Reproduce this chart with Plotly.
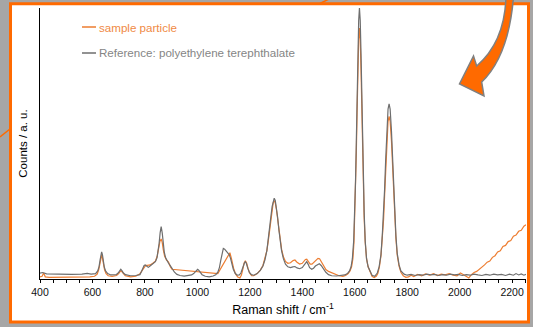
import plotly.graph_objects as go

# ---------------- data ----------------
ref_x = [400, 410, 425, 450, 480, 520, 560, 580, 595, 612, 620, 625, 629, 632, 635, 638, 641, 645, 650, 658,
         670, 690, 698, 703, 708, 713, 718, 726, 745, 765, 781, 787, 792, 797, 801, 807, 813, 822, 832, 840,
         846, 850, 854, 858, 862, 866, 870, 874, 879, 884, 890, 896, 902, 912, 922, 934, 950, 965, 978, 986,
         992, 997, 1001, 1005, 1010, 1018, 1030, 1045, 1060, 1070, 1078, 1084, 1089, 1094, 1099, 1104, 1110,
         1116, 1121, 1126, 1131, 1137, 1144, 1152, 1160, 1166, 1171, 1176, 1180, 1183, 1187, 1192, 1198, 1206,
         1215, 1228, 1240, 1250, 1258, 1265, 1270, 1275, 1280, 1285, 1289, 1293, 1297, 1301, 1306, 1311, 1316,
         1321, 1328, 1336, 1345, 1355, 1364, 1372, 1380, 1390, 1400, 1407, 1412, 1417, 1422, 1428, 1436, 1443,
         1450, 1458, 1465, 1472, 1480, 1490, 1500, 1512, 1530, 1548, 1562, 1572, 1580, 1586, 1591, 1596, 1600,
         1603, 1606, 1609, 1612, 1615, 1618, 1621, 1624, 1627, 1630, 1633, 1636, 1640, 1645, 1651, 1658, 1666,
         1676, 1686, 1693, 1700, 1705, 1710, 1714, 1718, 1722, 1727, 1731, 1735, 1740, 1744, 1748, 1752, 1757,
         1762, 1769, 1776, 1788, 1800, 1815, 1830, 1845, 1860, 1875, 1890, 1905, 1920, 1935, 1950, 1965, 1980,
         1995, 2010, 2025, 2040, 2055, 2070, 2085, 2100, 2115, 2130, 2145, 2160, 2175, 2190, 2205, 2215, 2225,
         2235, 2245, 2253]
ref_y = [0.022, 0.024, 0.019, 0.018, 0.017, 0.017, 0.018, 0.021, 0.018, 0.02, 0.03, 0.045, 0.07, 0.09, 0.1,
         0.09, 0.07, 0.045, 0.03, 0.02, 0.015, 0.016, 0.022, 0.03, 0.036, 0.03, 0.022, 0.016, 0.012, 0.013,
         0.016, 0.028, 0.04, 0.05, 0.052, 0.046, 0.043, 0.05, 0.058, 0.064, 0.078, 0.098, 0.13, 0.17, 0.193,
         0.17, 0.13, 0.098, 0.078, 0.066, 0.058, 0.05, 0.04, 0.026, 0.017, 0.013, 0.011, 0.012, 0.015, 0.02,
         0.027, 0.033, 0.036, 0.033, 0.025, 0.016, 0.01, 0.008, 0.011, 0.016, 0.025, 0.042, 0.068, 0.095,
         0.113, 0.11, 0.102, 0.096, 0.09, 0.078, 0.058, 0.036, 0.021, 0.014, 0.015, 0.022, 0.036, 0.052,
         0.061, 0.064, 0.057, 0.04, 0.025, 0.016, 0.014, 0.02, 0.032, 0.048, 0.072, 0.105, 0.14, 0.18, 0.228,
         0.267, 0.29, 0.298, 0.29, 0.267, 0.228, 0.18, 0.14, 0.105, 0.075, 0.055, 0.045, 0.042, 0.045, 0.046,
         0.041, 0.038, 0.042, 0.052, 0.06, 0.064, 0.055, 0.042, 0.036, 0.04, 0.048, 0.054, 0.056, 0.05,
         0.038, 0.025, 0.016, 0.012, 0.011, 0.012, 0.015, 0.02, 0.03, 0.045, 0.075, 0.14, 0.245, 0.36, 0.505,
         0.67, 0.83, 0.954, 1.0, 0.954, 0.83, 0.67, 0.505, 0.36, 0.245, 0.14, 0.075, 0.045, 0.028, 0.014,
         0.01, 0.022, 0.045, 0.09, 0.16, 0.239, 0.333, 0.44, 0.547, 0.627, 0.646, 0.627, 0.547, 0.44, 0.333,
         0.239, 0.16, 0.095, 0.052, 0.03, 0.018, 0.014, 0.017, 0.013, 0.016, 0.014, 0.018, 0.015, 0.017,
         0.013, 0.016, 0.014, 0.018, 0.015, 0.017, 0.013, 0.016, 0.014, 0.018, 0.015, 0.013, 0.017, 0.014,
         0.018, 0.015, 0.017, 0.013, 0.018, 0.014, 0.02, 0.015, 0.019, 0.014, 0.017]

sample_x = [400, 408, 414, 420, 435, 470, 520, 560, 590, 608, 618, 624, 628, 632, 635, 638, 642, 646, 652, 660,
            675, 692, 700, 704, 708, 712, 717, 725, 745, 765, 780, 790, 797, 803, 810, 820, 830, 840, 847, 852,
            857, 862, 866, 870, 875, 882, 890, 897, 903, 1078, 1124, 1130, 1138, 1146, 1154, 1162, 1168, 1173,
            1178, 1183, 1188, 1193, 1199, 1207, 1215, 1228, 1240, 1250, 1258, 1265, 1270, 1275, 1280, 1285,
            1289, 1293, 1297, 1301, 1306, 1311, 1316, 1321, 1328, 1336, 1345, 1355, 1365, 1372, 1380, 1390,
            1400, 1407, 1412, 1417, 1422, 1430, 1437, 1445, 1452, 1460, 1466, 1472, 1480, 1490, 1500, 1512,
            1525, 1540, 1555, 1565, 1575, 1582, 1588, 1593, 1597, 1600, 1603, 1606, 1609, 1612, 1615, 1618,
            1621, 1624, 1627, 1630, 1633, 1636, 1640, 1645, 1651, 1658, 1666, 1674, 1682, 1688, 1694, 1700,
            1705, 1710, 1714, 1718, 1722, 1727, 1731, 1735, 1740, 1744, 1748, 1752, 1757, 1762, 1769, 1776,
            1785, 1795, 1805, 1815, 1825, 1840, 1855, 1870, 1885, 1900, 1915, 1930, 1945, 1960, 1975, 1990,
            2003, 2015, 2025, 2035, 2045, 2055, 2065, 2075, 2085, 2095, 2105, 2115, 2125, 2135, 2145, 2155,
            2165, 2175, 2185, 2195, 2205, 2215, 2225, 2235, 2245, 2253]
sample_y = [0.008, 0.01, 0.022, 0.008, 0.006, 0.006, 0.006, 0.007, 0.008, 0.01, 0.018, 0.035, 0.058, 0.078,
            0.088, 0.078, 0.055, 0.035, 0.02, 0.012, 0.01, 0.013, 0.02, 0.027, 0.031, 0.027, 0.02, 0.012,
            0.008, 0.01, 0.018, 0.032, 0.045, 0.05, 0.05, 0.052, 0.058, 0.066, 0.085, 0.11, 0.138, 0.148,
            0.135, 0.108, 0.085, 0.07, 0.062, 0.045, 0.036, 0.02, 0.097, 0.075, 0.04, 0.018, 0.007, 0.004,
            0.015, 0.035, 0.058, 0.067, 0.058, 0.04, 0.022, 0.012, 0.012, 0.02, 0.033, 0.05, 0.075, 0.105,
            0.138, 0.175, 0.22, 0.258, 0.281, 0.289, 0.281, 0.26, 0.225, 0.18, 0.142, 0.11, 0.082, 0.065,
            0.058, 0.06, 0.068, 0.07, 0.062, 0.055, 0.058, 0.065, 0.072, 0.073, 0.065, 0.055, 0.055, 0.063,
            0.072, 0.076, 0.075, 0.065, 0.05, 0.035, 0.028, 0.024, 0.018, 0.012, 0.01, 0.013, 0.02, 0.03,
            0.045, 0.075, 0.135, 0.225, 0.33, 0.465, 0.615, 0.77, 0.883, 0.926, 0.883, 0.77, 0.615, 0.465,
            0.33, 0.225, 0.135, 0.075, 0.045, 0.025, 0.01, 0.005, 0.01, 0.02, 0.045, 0.085, 0.15, 0.22, 0.31,
            0.41, 0.51, 0.582, 0.6, 0.582, 0.51, 0.41, 0.31, 0.22, 0.15, 0.088, 0.048, 0.025, 0.012, 0.006,
            0.008, 0.014, 0.009, 0.017, 0.012, 0.019, 0.014, 0.02, 0.013, 0.018, 0.015, 0.02, 0.014, 0.012,
            0.022, 0.016, 0.01, 0.004, 0.016, 0.024, 0.028, 0.035, 0.044, 0.052, 0.062, 0.066, 0.08, 0.086,
            0.1, 0.104, 0.12, 0.124, 0.138, 0.142, 0.158, 0.162, 0.176, 0.18, 0.195, 0.2]

x_ticks = [400, 600, 800, 1000, 1200, 1400, 1600, 1800, 2000, 2200]
legend_labels = ["sample particle", "Reference: polyethylene terephthalate"]

ORANGE = "#ED7D31"
GRAY = "#6E6E6E"

# ---------------- geometry helpers (pixel -> paper) ----------------
W, H = 533, 327
ML, MR, MT, MB = 40, 7, 8, 48
PW, PH = W - ML - MR, H - MT - MB


def px(x):
    return (x - ML) / PW


def py(y):
    return (H - MB - y) / PH


def pt(x, y):
    return f"{px(x):.5f},{py(y):.5f}"


fig = go.Figure()
fig.add_trace(go.Scatter(x=sample_x, y=sample_y, mode="lines", name=legend_labels[0],
                         line=dict(color=ORANGE, width=1.2), showlegend=False))
fig.add_trace(go.Scatter(x=ref_x, y=ref_y, mode="lines", name=legend_labels[1],
                         line=dict(color=GRAY, width=1.2), showlegend=False))

shapes = []
# white panel with orange frame
shapes.append(dict(type="rect", xref="paper", yref="paper", layer="below",
                   x0=px(10.5), x1=px(528.5), y0=py(322), y1=py(3.8),
                   fillcolor="white", line=dict(color="#FF6A00", width=3)))
# connector fragments outside the panel
shapes.append(dict(type="line", xref="paper", yref="paper", x0=px(0), y0=py(137), x1=px(10), y1=py(129),
                   line=dict(color="#FF6A00", width=1.5)))
shapes.append(dict(type="line", xref="paper", yref="paper", x0=px(320), y0=py(3.5), x1=px(329), y1=py(-1),
                   line=dict(color="#FF6A00", width=1.5)))
# curved arrow
arrow = ("M " + pt(506, -3) + " Q " + pt(504.6, 42) + " " + pt(476.7, 66) +
         " L " + pt(473.5, 56) + " L " + pt(459.5, 84) + " L " + pt(484, 96) +
         " L " + pt(481.7, 82) + " Q " + pt(508.7, 56) + " " + pt(513.5, -3) + " Z")
shapes.append(dict(type="path", xref="paper", yref="paper", path=arrow,
                   fillcolor="#FF6A00", line=dict(color="#808080", width=1.5)))
# legend lines
shapes.append(dict(type="line", xref="paper", yref="paper", x0=px(82), x1=px(96), y0=py(27), y1=py(27),
                   line=dict(color=ORANGE, width=1.5)))
shapes.append(dict(type="line", xref="paper", yref="paper", x0=px(82), x1=px(96), y0=py(53), y1=py(53),
                   line=dict(color=GRAY, width=1.5)))

annotations = [
    dict(xref="paper", yref="paper", x=px(96.5), y=py(27), xanchor="left", yanchor="middle",
         text=legend_labels[0], showarrow=False, font=dict(size=11.6, color="#F08A45")),
    dict(xref="paper", yref="paper", x=px(96.5), y=py(53), xanchor="left", yanchor="middle",
         text=legend_labels[1], showarrow=False, font=dict(size=11.6, color="#858585")),
]

FONT = "Liberation Sans, Arial, sans-serif"
fig.update_layout(
    width=W, height=H,
    margin=dict(l=ML, r=MR, t=MT, b=MB, pad=0),
    paper_bgcolor="#A6A6A6", plot_bgcolor="white",
    font=dict(family=FONT, color="black"),
    shapes=shapes, annotations=annotations,
    showlegend=False,
    xaxis=dict(range=[400, 2253], tickvals=x_ticks, ticktext=[str(t) for t in x_ticks],
               ticks="outside", ticklen=3, tickwidth=1, tickcolor="black",
               minor=dict(dtick=50, ticks="outside", ticklen=3, tickwidth=1, tickcolor="black"),
               showline=True, linecolor="black", linewidth=1, showgrid=False, zeroline=False,
               tickfont=dict(size=10.5, family=FONT, color="#111111"),
               title=dict(text="Raman shift / cm<sup>-1</sup>", font=dict(size=12.5, family=FONT), standoff=8)),
    yaxis=dict(range=[0, 1.0], showticklabels=False, ticks="", showline=True, linecolor="black",
               linewidth=1, showgrid=False, zeroline=False,
               title=dict(text="Counts / a. u.", font=dict(size=11.5, family=FONT), standoff=8)),
)

fig.write_html("out.html", config={"displayModeBar": False},
               post_script="document.body.style.margin='0';document.body.style.background='#A6A6A6';")
